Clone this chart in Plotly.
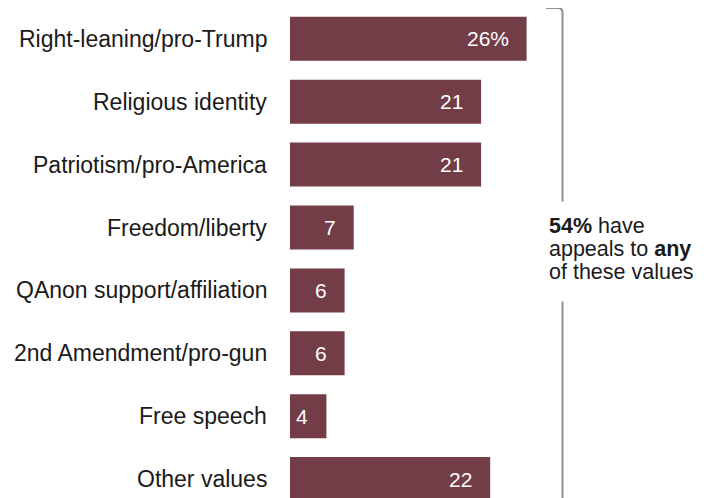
import plotly.graph_objects as go

categories = ["Right-leaning/pro-Trump", "Religious identity", "Patriotism/pro-America",
              "Freedom/liberty", "QAnon support/affiliation", "2nd Amendment/pro-gun",
              "Free speech", "Other values"]
values = [26, 21, 21, 7, 6, 6, 4, 22]
value_labels = ["26%", "21", "21", "7", "6", "6", "4", "22"]
note_lines = ["<b>54%</b> have", "appeals to <b>any</b>", "of these values"]

OFF = 8  # page body margin
W, H = 706 - OFF, 498 - OFF
L = 290 - OFF
BAR = "#733d48"
FONT = "Liberation Sans, Arial, sans-serif"

fig = go.Figure(go.Bar(
    x=values, y=categories, orientation="h",
    marker=dict(color=BAR, line=dict(width=0)),
    width=0.70, hoverinfo="skip",
))

ann = []
for c, v, t in zip(categories, values, value_labels):
    ann.append(dict(x=v, y=c, xref="x", yref="y", text=t, showarrow=False,
                    xanchor="right", xshift=-16,
                    font=dict(family=FONT, size=21, color="white")))
    ann.append(dict(x=0, y=c, xref="paper", yref="y", text=c, showarrow=False,
                    xanchor="right", xshift=-21,
                    font=dict(family=FONT, size=23, color="#1a1a1a")))

pw = W - L
def px(x):
    return (x - OFF - L) / pw
def py(y):
    return 1 - (y - OFF) / H

for line, yc in zip(note_lines, [226, 249, 272]):
    ann.append(dict(x=px(547), y=py(yc), xref="paper", yref="paper", text=line,
                    showarrow=False, xanchor="left", yanchor="middle",
                    font=dict(family=FONT, size=21.5, color="#1a1a1a")))

gray = "#8f8f8f"
path = (f"M {px(546)},{py(8)} L {px(558)},{py(8)} "
        f"Q {px(562.5)},{py(8)} {px(562.5)},{py(12.5)} L {px(562.5)},{py(201.5)}")
shapes = [
    dict(type="path", path=path, xref="paper", yref="paper",
         line=dict(color=gray, width=2)),
    dict(type="line", x0=px(562.5), x1=px(562.5), y0=py(301.5), y1=py(500),
         xref="paper", yref="paper", line=dict(color=gray, width=2)),
]

# y-range: bar centre i at reference pixel 38.8 + 62.9*i
step = 62.9
top_idx = -(38.8 - OFF) / step
bot_idx = top_idx + H / step

fig.update_layout(
    width=W, height=H,
    margin=dict(l=L, r=0, t=0, b=0),
    paper_bgcolor="white", plot_bgcolor="white",
    showlegend=False,
    xaxis=dict(range=[0, pw / 9.1], visible=False, fixedrange=True),
    yaxis=dict(range=[bot_idx, top_idx], visible=False, fixedrange=True,
               categoryorder="array", categoryarray=categories),
    annotations=ann, shapes=shapes,
)

fig.write_html("out.html", config=dict(displayModeBar=False))
